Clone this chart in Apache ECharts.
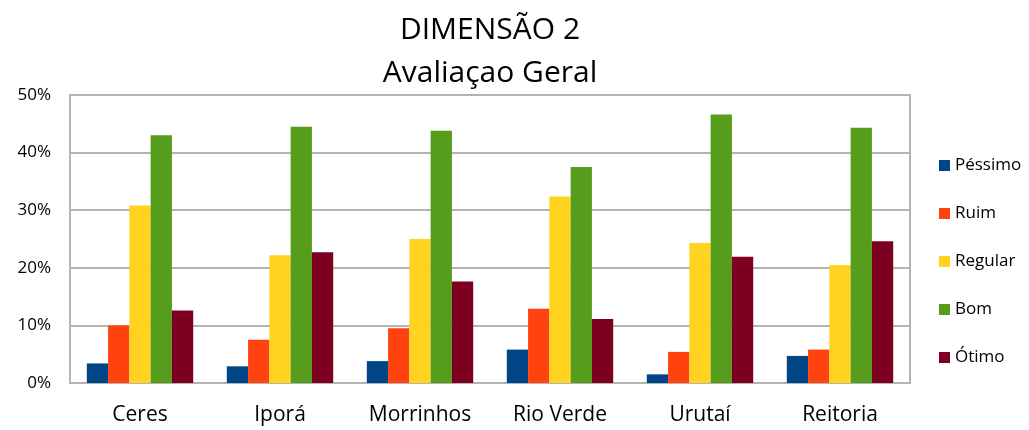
<!DOCTYPE html>
<html>
<head>
<meta charset="utf-8">
<script src="https://cdn.jsdelivr.net/npm/echarts@6/dist/echarts.min.js"></script>
<style>
html,body{margin:0;padding:0;background:#fff;}
#chart{width:1029px;height:430px;}
</style>
</head>
<body>
<div id="chart"></div>
<script>
"use strict";

const campi = ["Ceres", "Iporá", "Morrinhos", "Rio Verde", "Urutaí", "Reitoria"];
const pessimo = [3.4, 2.9, 3.8, 5.8, 1.5, 4.7];
const ruim = [10.0, 7.5, 9.5, 12.9, 5.4, 5.8];
const regular = [30.8, 22.2, 25.0, 32.4, 24.3, 20.5];
const bom = [43.0, 44.5, 43.8, 37.5, 46.6, 44.3];
const otimo = [12.6, 22.7, 17.6, 11.1, 21.9, 24.6];

const nomes = ["Péssimo", "Ruim", "Regular", "Bom", "Ótimo"];
const cores = ["#004586", "#ff420e", "#ffd320", "#579d1c", "#7e0021"];
const valores = [pessimo, ruim, regular, bom, otimo];

const fonte = "Open Sans, Noto Sans, sans-serif";
const myChart = echarts.init(document.getElementById("chart"));

myChart.setOption({
	animation: false,
	title: {
		text: "DIMENSÃO 2\nAvaliaçao Geral",
		left: 490,
		textAlign: "center",
		top: 9,
		padding: 0,
		textStyle: {fontFamily: fonte, fontSize: 30, fontWeight: "normal", color: "#000", lineHeight: 43}
	},
	legend: {
		orient: "vertical",
		left: 939,
		top: 157,
		padding: 0,
		itemWidth: 11,
		itemHeight: 11,
		itemGap: 31,
		icon: "rect",
		textStyle: {fontFamily: fonte, fontSize: 17, color: "#000"},
		data: nomes
	},
	grid: {left: 70, right: 119, top: 95, bottom: 47, show: true, borderColor: "#b3b3b3", borderWidth: 2},
	xAxis: {
		type: "category",
		data: campi,
		axisLine: {lineStyle: {color: "#b3b3b3", width: 2}},
		axisTick: {show: false},
		axisLabel: {fontFamily: fonte, fontSize: 21, color: "#000", margin: 22}
	},
	yAxis: {
		type: "value",
		min: 0,
		max: 50,
		interval: 10,
		axisLine: {show: true, lineStyle: {color: "#b3b3b3", width: 2}},
		axisTick: {show: false},
		splitLine: {lineStyle: {color: "#b3b3b3", width: 2}},
		axisLabel: {fontFamily: fonte, fontSize: 17, color: "#000", margin: 19, formatter: "{value}%"}
	},
	series: nomes.map((n, i) => ({
		name: n,
		type: "bar",
		data: valores[i],
		barGap: "0%",
		barCategoryGap: "24%",
		itemStyle: {color: cores[i]}
	}))
});
</script>
</body>
</html>
